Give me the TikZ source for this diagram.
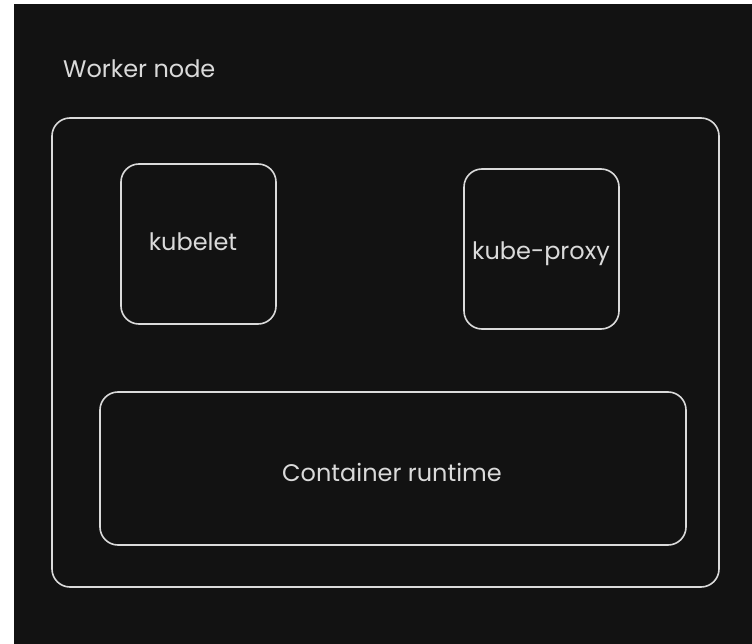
\documentclass[tikz,border=0pt]{standalone}
\usepackage{fontspec}
\setmainfont{Poppins}
\definecolor{canvas}{HTML}{121212}
\definecolor{ink}{HTML}{DADADA}
\begin{document}
\begin{tikzpicture}[x=1pt,y=-1pt,
  box/.style={draw=ink,line width=1.6pt,rounded corners=18pt},
  lbl/.style={text=ink,font=\fontsize{24}{28}\selectfont,inner sep=0pt}]
  \useasboundingbox (0,0) rectangle (752,644);
  \fill[white] (0,0) rectangle (752,644);
  \fill[canvas] (14,4) rectangle (752,644);
  % worker node frame and its title
  \node[lbl,anchor=west] (title) at (63,69) {Worker node};
  \draw[box] (52,118) rectangle (719,587);
  % components
  \draw[box] (121,164) rectangle (276,324);
  \node[lbl] (kubelet) at (193,242) {kubelet};
  \draw[box] (464,169) rectangle (619,329);
  \node[lbl] (proxy) at (541,254) {kube-proxy};
  \draw[box] (100,392) rectangle (686,545);
  \node[lbl] (runtime) at (392,472) {Container runtime};
\end{tikzpicture}
\end{document}
